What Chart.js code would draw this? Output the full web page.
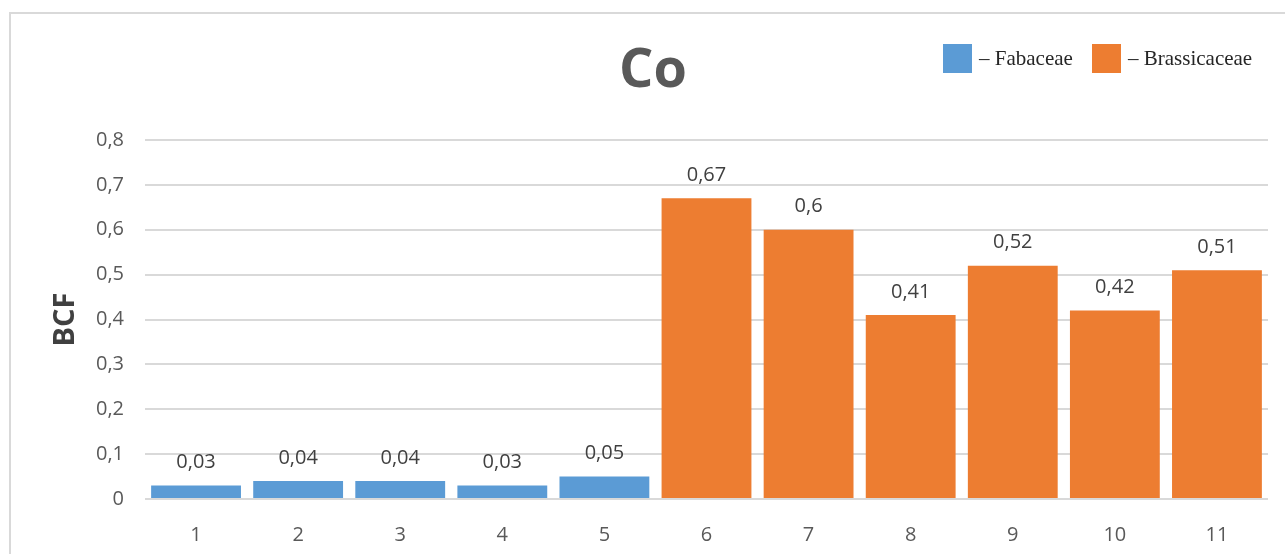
<!DOCTYPE html>
<html>
<head>
<meta charset="utf-8">
<title>Co – BCF</title>
<script src="https://cdn.jsdelivr.net/npm/chart.js@4/dist/chart.umd.min.js"></script>
<style>
  html, body { margin: 0; padding: 0; background: #ffffff; overflow: hidden; }
  #frame {
    position: absolute; left: 9px; top: 12px; width: 1300px; height: 580px;
    border: 2px solid #d9d9d9; box-sizing: border-box;
  }
  #wrap { position: absolute; left: 0; top: 0; width: 1285px; height: 554px; }
</style>
</head>
<body>
<div id="frame"></div>
<div id="wrap"><canvas id="chart" width="1285" height="554"></canvas></div>
<script>
// Samples 1–11 and the bioconcentration factor (BCF) of cobalt for each plant family
const categories = ['1', '2', '3', '4', '5', '6', '7', '8', '9', '10', '11'];
const fabaceae = [0.03, 0.04, 0.04, 0.03, 0.05, null, null, null, null, null, null];
const brassicaceae = [null, null, null, null, null, 0.67, 0.6, 0.41, 0.52, 0.42, 0.51];
const seriesNames = ['– Fabaceae', '– Brassicaceae'];
const seriesColors = ['#5b9bd5', '#ed7d31'];
const yTickMin = 0;
const yTickMax = 0.8;
const yTickStep = 0.1;

const sansFont = "'Open Sans', 'DejaVu Sans', sans-serif";
const fmt = v => (Math.round(v * 100) / 100).toString().replace('.', ',');

// Title, legend and value labels drawn on the canvas
const decorations = {
  id: 'decorations',
  afterDatasetsDraw(chart) {
    const ctx = chart.ctx;
    ctx.save();
    ctx.fillStyle = '#404040';
    ctx.font = "20px " + sansFont;
    ctx.textAlign = 'center';
    ctx.textBaseline = 'middle';
    chart.data.datasets.forEach((ds, di) => {
      const meta = chart.getDatasetMeta(di);
      meta.data.forEach((bar, i) => {
        const v = ds.data[i];
        if (v === null || v === undefined) return;
        ctx.fillText(fmt(v), bar.x, bar.y - 23);
      });
    });
    ctx.restore();
  },
  afterDraw(chart) {
    const ctx = chart.ctx;
    ctx.save();
    // chart title
    ctx.fillStyle = '#595959';
    ctx.font = "bold 54px " + sansFont;
    ctx.textAlign = 'center';
    ctx.textBaseline = 'middle';
    ctx.fillText('Co', 653, 72);
    // legend
    const starts = [943, 1092];
    ctx.font = "21px 'Liberation Serif', 'DejaVu Serif', serif";
    ctx.textAlign = 'left';
    chart.data.datasets.forEach((ds, di) => {
      const x = starts[di];
      ctx.fillStyle = ds.backgroundColor;
      ctx.fillRect(x, 44, 29, 29);
      ctx.fillStyle = '#262626';
      ctx.fillText(ds.label, x + 36, 59);
    });
    ctx.restore();
  }
};

new Chart(document.getElementById('chart'), {
  type: 'bar',
  data: {
    labels: categories,
    datasets: [
      { label: seriesNames[0], data: fabaceae, backgroundColor: seriesColors[0] },
      { label: seriesNames[1], data: brassicaceae, backgroundColor: seriesColors[1] }
    ]
  },
  options: {
    responsive: false,
    animation: false,
    devicePixelRatio: 1,
    grouped: false,
    barPercentage: 0.88,
    categoryPercentage: 1.0,
    layout: { padding: { left: 0, right: 17, top: 140, bottom: 0 } },
    plugins: {
      legend: { display: false },
      title: { display: false },
      tooltip: { enabled: false }
    },
    scales: {
      x: {
        grid: { display: false },
        border: { display: false },
        ticks: { color: '#595959', font: { family: sansFont, size: 20 }, padding: 16, maxRotation: 0 },
        afterFit(scale) { scale.height = 55; }
      },
      y: {
        min: yTickMin,
        max: yTickMax,
        border: { display: false },
        grid: { color: '#d9d9d9', lineWidth: 2, drawTicks: false },
        ticks: {
          stepSize: yTickStep,
          color: '#595959',
          font: { family: sansFont, size: 20 },
          padding: 21,
          callback: v => fmt(v)
        },
        title: {
          display: true,
          text: 'BCF',
          color: '#404040',
          font: { family: sansFont, size: 29, weight: 'bold' },
          padding: { top: 48, bottom: 0 }
        },
        afterFit(scale) { scale.width = 145; }
      }
    }
  },
  plugins: [decorations]
});
</script>
</body>
</html>
